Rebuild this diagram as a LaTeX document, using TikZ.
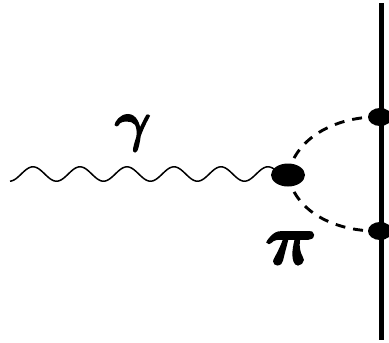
\documentclass[tikz,border=0pt]{standalone}
\usepackage{amsmath}
\usepackage{graphicx}
\usetikzlibrary{shapes.geometric}
\newcommand{\heavytext}[1]{\special{pdf:code 2 Tr 0.25 w}#1\special{pdf:code 0 Tr 0 w}}
\tikzset{
  blob/.style={ellipse,fill=black,inner sep=0pt},
  pion/.style={line width=2.9pt,dash pattern=on 10pt off 8pt,line cap=butt},
  fermion/.style={line width=5pt},
  photon/.style={line width=1.5pt,line join=round},
  lab/.style={inner sep=0pt,text=black}
}
\begin{document}
\begin{tikzpicture}[x=1pt,y=-1pt]
\useasboundingbox (0,0) rectangle (389,343);
\coordinate (top) at (381,3);
\coordinate (bot) at (381,340);
\draw[fermion] (top) -- (bot);
\node[blob,minimum width=34pt,minimum height=23pt] (v) at (288,175) {};
\node[blob,minimum width=24pt,minimum height=18pt] (a) at (380,117) {};
\node[blob,minimum width=24pt,minimum height=18pt] (b) at (380,231) {};
\draw[pion] (v.center) .. controls (296,135) and (340,116) .. (a.center);
\draw[pion] (v.center) .. controls (296,215) and (340,232) .. (b.center);
\draw[photon] plot[domain=10:276,samples=200,smooth] (\x,{174-7.2*sin(7.66*(\x-21.25))});
\node[lab] (g) at (133,133) {\scalebox{5.6}{\heavytext{$\boldsymbol{\gamma}$}}};
\node[lab] (p) at (291,248) {\scalebox{7.2}{\heavytext{$\boldsymbol{\pi}$}}};
\end{tikzpicture}
\end{document}
